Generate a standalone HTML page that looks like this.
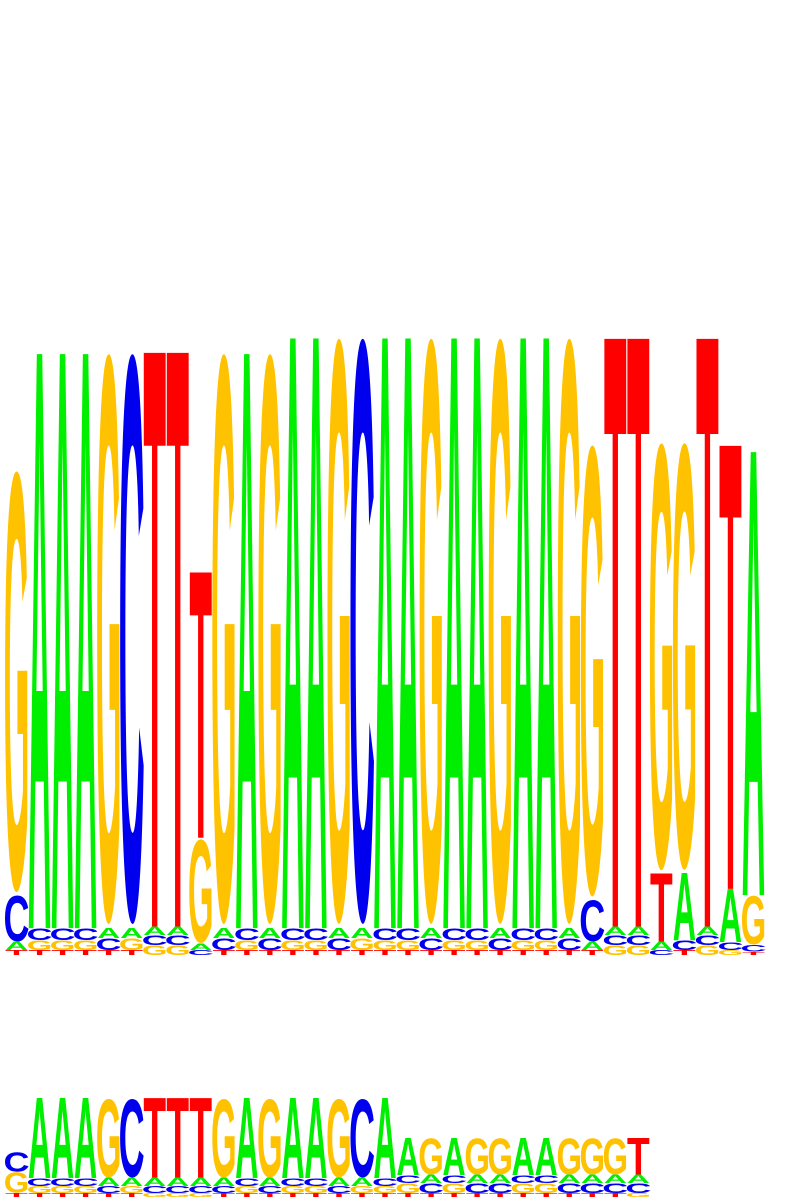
<!DOCTYPE html>
<html><head><meta charset="utf-8"><style>
html,body{margin:0;padding:0;background:#fff;}
svg{display:block;}
</style></head><body>
<svg id="chart" width="792" height="1200" viewBox="0 0 792 1200" xmlns="http://www.w3.org/2000/svg">
<g id="topLogo"></g>
<g id="bottomLogo"></g>
</svg>
<script>
// Top logo: letters per column stacked bottom->top, heights in bits
const topLetters = ["TACG","TGCA","TGCA","TGCA","TCAG","TGAC","GCAT","GCAT","CAGT","TCAG","TGCA","TCAG","TGCA","TGCA","TCAG","TGAC","TGCA","TGCA","TCAG","TGCA","TGCA","TCAG","TGCA","TGCA","TCAG","TACG","GCAT","GCAT","CATG","TCAG","GCAT","GCAT","TCGA"];
const topHeights = [
[.016,.026,.15,1.38],[.016,.032,.038,1.84],[.016,.032,.038,1.84],[.016,.032,.038,1.84],
[.016,.038,.032,1.87],[.016,.038,.032,1.87],[.032,.032,.026,1.84],[.032,.032,.026,1.84],
[.016,.02,.34,.85],[.016,.038,.032,1.87],[.016,.032,.038,1.84],[.016,.038,.032,1.87],
[.016,.032,.038,1.89],[.016,.032,.038,1.89],[.016,.038,.032,1.92],[.016,.038,.032,1.92],
[.016,.032,.038,1.89],[.016,.032,.038,1.89],[.016,.038,.032,1.92],[.016,.032,.038,1.89],
[.016,.032,.038,1.89],[.016,.038,.032,1.92],[.016,.032,.038,1.89],[.016,.032,.038,1.89],
[.016,.038,.032,1.92],[.016,.026,.135,1.48],[.032,.032,.026,1.885],[.032,.032,.026,1.885],
[.016,.026,.22,1.4],[.016,.032,.215,1.4],[.032,.032,.026,1.885],[.016,.026,.17,1.42],
[.01,.022,.16,1.42]];
// Bottom logo
const bottomLetters = ["TGC","TGCA","TGCA","TGCA","TCAG","TGAC","GCAT","GCAT","GCAT","TCAG","TGCA","TCAG","TGCA","TGCA","TCAG","TGAC","TGCA","TGCA","TCAG","TGCA","TCAG","TCAG","TGCA","TGCA","TCAG","TCAG","TCAG","GCAT"];
const bottomHeights = [
[.08,.42,.4],[.08,.14,.16,1.6],[.08,.14,.16,1.6],[.08,.14,.16,1.6],[.08,.14,.16,1.6],
[.08,.14,.16,1.6],[.08,.14,.16,1.6],[.08,.14,.16,1.6],[.08,.14,.16,1.6],[.08,.14,.16,1.6],
[.08,.14,.16,1.6],[.08,.14,.16,1.6],[.08,.14,.16,1.6],[.08,.14,.16,1.6],[.08,.14,.16,1.6],
[.08,.14,.16,1.6],[.08,.14,.16,1.6],[.08,.2,.16,.74],[.08,.2,.16,.74],[.08,.2,.16,.74],
[.08,.2,.16,.74],[.08,.2,.16,.74],[.08,.2,.16,.74],[.08,.2,.16,.74],[.08,.2,.16,.74],
[.08,.2,.16,.74],[.08,.2,.16,.74],[.08,.2,.16,.74]];

const colors = {A:"#00ee00",C:"#0000ee",G:"#ffc200",T:"#ff0000"};
// glyph metrics at font-size 200 (Liberation Sans Bold)
const FS = 200;
const glyphTop = {A:137.6,C:142.0,G:142.0,T:137.6};
const glyphBottom = {A:0,C:3.0,G:3.0,T:0};
const inkWidth = {A:144,C:128,G:140,T:124};
const NS = "http://www.w3.org/2000/svg";

function drawLogo(gId, letters, heights, x0, colW, baseline, pxPerBit){
  const g = document.getElementById(gId);
  const xScale = i => x0 + i*colW;
  const yScale = bits => bits*pxPerBit;
  letters.forEach((str, i) => {
    const col = document.createElementNS(NS,"g");
    
    
    const items = [];
    let y = baseline;
    for (let k=0;k<str.length;k++){
      const h = yScale(heights[i][k]);
      if (h <= 0) continue;
      items.push({L:str[k], y:y, h:h});
      y -= h;
    }
    items.reverse().forEach(it => {
      const L = it.L;
      const full = glyphTop[L] + glyphBottom[L];
      const sx = colW / inkWidth[L];
      const t = document.createElementNS(NS,"text");
      
      
      t.setAttribute("x", 0);
      t.setAttribute("y", -glyphBottom[L]);
      t.setAttribute("text-anchor", "middle");
      t.setAttribute("font-family", "Liberation Sans, sans-serif");
      t.setAttribute("font-weight", "bold");
      t.setAttribute("font-size", FS);
      t.setAttribute("fill", colors[L]);
      t.setAttribute("transform", "translate(" + (xScale(i) + colW/2) + "," + it.y + ") scale(" + sx + "," + (it.h/full) + ")");
      t.textContent = L;
      col.appendChild(t);
    });
    g.appendChild(col);
  });
}
drawLogo("topLogo", topLetters, topHeights, 5, 23.03, 955, 312);
drawLogo("bottomLogo", bottomLetters, bottomHeights, 5, 23.03, 1197, 50);
</script>
</body></html>
